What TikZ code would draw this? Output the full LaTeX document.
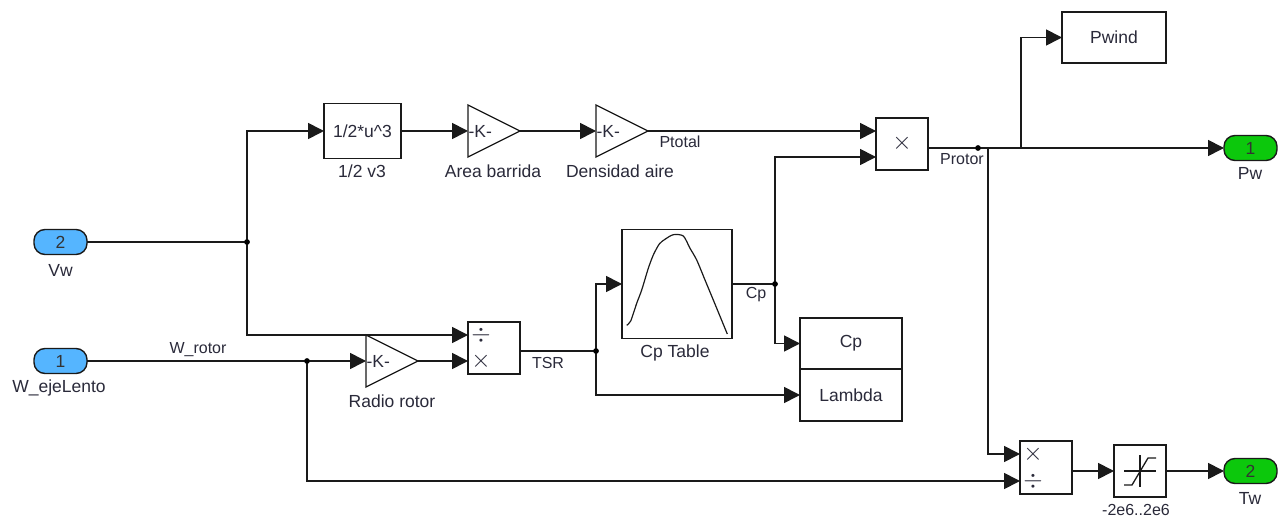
\documentclass[tikz,border=0pt]{standalone}
\usepackage{fontspec}
\setmainfont{Liberation Sans}
\usetikzlibrary{arrows.meta,calc}
\definecolor{txt}{HTML}{2A2A3A}
\definecolor{inport}{HTML}{55B5FF}
\definecolor{outport}{HTML}{0CC80C}
\definecolor{ln}{HTML}{1A1A1A}
\tikzset{
  wire/.style={draw=ln,line width=1.7pt,line join=miter},
  arr/.style={wire,-{Triangle[length=16pt,width=16pt]}},
  block/.style={draw=ln,line width=1.6pt,fill=white,rectangle,inner sep=0pt,outer sep=0pt,font=\fontsize{17.5}{20}\selectfont,text=txt},
  portbase/.style={draw=ln,line width=1.4pt,rectangle,rounded corners=11pt,minimum width=53pt,minimum height=25pt,inner sep=0pt,outer sep=0pt,font=\fontsize{17.5}{20}\selectfont,text=black!80},
  inp/.style={portbase,fill=inport},
  outp/.style={portbase,fill=outport},
  lab/.style={inner sep=0pt,outer sep=0pt,text=txt,font=\fontsize{17.5}{20}\selectfont},
  sig/.style={inner sep=0pt,outer sep=0pt,text=txt,font=\fontsize{16}{18}\selectfont},
  sym/.style={inner sep=0pt,outer sep=0pt,text=txt,font=\fontsize{25}{25}\selectfont},
  gainbox/.style={rectangle,inner sep=0pt,outer sep=0pt,minimum width=52pt,minimum height=52pt},
  gainline/.style={draw=ln,line width=1.3pt,line join=miter,fill=white},
  dot/.style={circle,fill=black,inner sep=0pt,outer sep=0pt,minimum size=5.5pt},
}
\begin{document}
\begin{tikzpicture}[x=1pt,y=-1pt]
\useasboundingbox[fill=white] (0,0) rectangle (1280,521);
% ports
\node[inp] (vw) at (60.5,242) {2};
\node[inp] (we) at (60.5,361) {1};
\node[outp] (pw) at (1250.5,148) {1};
\node[outp] (tw) at (1250.5,471) {2};
% blocks
\node[block,minimum width=77pt,minimum height=55pt] (half) at (362.5,131) {1/2*u\^{}3};
\node[block,minimum width=52pt,minimum height=52pt] (mult) at (902,144) {};
\node[block,minimum width=52pt,minimum height=52pt] (divb) at (494,348) {};
\node[block,minimum width=52pt,minimum height=53pt] (divt) at (1046,467.5) {};
\node[block,minimum width=110pt,minimum height=109pt] (cpt) at (677,284) {};
\node[block,minimum width=102pt,minimum height=51.5pt] (scp) at (851,343.5) {Cp};
\node[block,minimum width=102pt,minimum height=51.5pt] (sla) at (851,395) {Lambda};
\node[block,minimum width=104pt,minimum height=51pt] (pwi) at (1114,37.5) {Pwind};
\node[block,minimum width=52pt,minimum height=52pt] (sat) at (1140,471) {};
% gains
\node[gainbox] (g1) at (494,131) {};
\node[gainbox] (g2) at (622,131) {};
\node[gainbox] (g3) at (392,361) {};
\foreach \g in {g1,g2,g3}{
  \draw[gainline] (\g.north west) -- (\g.east) -- (\g.south west) -- cycle;
}
% junctions
\node[dot] (j1) at (247,242) {};
\node[dot] (j2) at (307,361) {};
\node[dot] (j3) at (596,351) {};
\node[dot] (j4) at (775,284) {};
\node[dot] (j5) at (978,148) {};
\coordinate (c1) at (988,148);
\coordinate (c2) at (1021,148);
% connectors
\draw[wire] (vw.east) -- (j1.center);
\draw[arr] (j1.center) |- (half.west);
\draw[arr] (j1.center) |- ($(divb.north west)+(0,13)$);
\draw[arr] (half.east) -- (g1.west);
\draw[arr] (g1.east) -- (g2.west);
\draw[arr] (g2.east) -- (mult.west |- g2.east);
\draw[arr] (we.east) -- (g3.west);
\draw[arr] (g3.east) -- (divb.west |- g3.east);
\draw[arr] (j2.center) |- ($(divt.north west)+(0,40)$);
\draw[wire] (divb.east |- j3) -- (j3.center);
\draw[arr] (j3.center) |- (cpt.west);
\draw[arr] (j3.center) |- (sla.west);
\draw[wire] (cpt.east) -- (j4.center);
\draw[arr] (j4.center) |- ($(mult.north west)+(0,39)$);
\draw[arr] (j4.center) |- (scp.west);
\draw[arr] (mult.east |- j5) -- (pw.west |- j5);
\draw[arr] (c2) |- (pwi.west);
\draw[arr] (c1) |- ($(divt.north west)+(0,13)$);
\draw[arr] (divt.east |- sat.west) -- (sat.west);
\draw[arr] (sat.east) -- (tw.west);
\fill (j1) circle (2.7pt) (j2) circle (2.7pt) (j3) circle (2.7pt) (j4) circle (2.7pt) (j5) circle (2.7pt);
% block glyphs
\node[lab,anchor=west] (k1) at ($(g1.west)+(0.5,0)$) {-K-};
\node[lab,anchor=west] (k2) at ($(g2.west)+(0.5,0)$) {-K-};
\node[lab,anchor=west] (k3) at ($(g3.west)+(0.5,0)$) {-K-};
\node[sym] (s1) at (902,143) {$\times$};
\node[sym] (s2) at (481,335) {$\div$};
\node[sym] (s3) at (481,361) {$\times$};
\node[sym] (s4) at (1033,454) {$\times$};
\node[sym] (s5) at (1033,481) {$\div$};
% lookup curve
\draw[draw=ln,line width=1.2pt,line join=round] plot[smooth,tension=0.45] coordinates {(626.7,325.3) (630.7,321) (636.7,303.3) (641.7,290) (648.3,268.3) (653.3,255) (659.3,244) (665,239.3) (673.3,234.7) (683.3,236) (690,248.3) (696.7,260) (705,280) (713.3,300) (727.3,334)};
% saturation icon
\draw[draw=ln,line width=1.1pt] (1124,471) -- (1156,471) (1140,455) -- (1140,487);
\draw[draw=ln,line width=1.3pt] (1124,485) -- (1132,485) -- (1148,458) -- (1156,458);
% block labels
\node[lab] (l1) at (60.5,270) {Vw};
\node[lab] (l2) at (59,388) {W\_ejeLento};
\node[lab] (l3) at (362,171) {1/2 v3};
\node[lab] (l4) at (493,171) {Area barrida};
\node[lab] (l5) at (620,171) {Densidad aire};
\node[lab] (l6) at (392,401) {Radio rotor};
\node[lab] (l7) at (675,353) {Cp Table};
\node[lab] (l8) at (1250,173) {Pw};
\node[lab] (l9) at (1250,498) {Tw};
\node[sig] (l10) at (1136,510) {-2e6..2e6};
% signal labels
\node[sig] (s10) at (198,350) {W\_rotor};
\node[sig] (s11) at (680,142) {Ptotal};
\node[sig] (s12) at (962,159) {Protor};
\node[sig] (s13) at (548,363) {TSR};
\node[sig] (s14) at (756,295) {Cp};
\end{tikzpicture}
\end{document}
